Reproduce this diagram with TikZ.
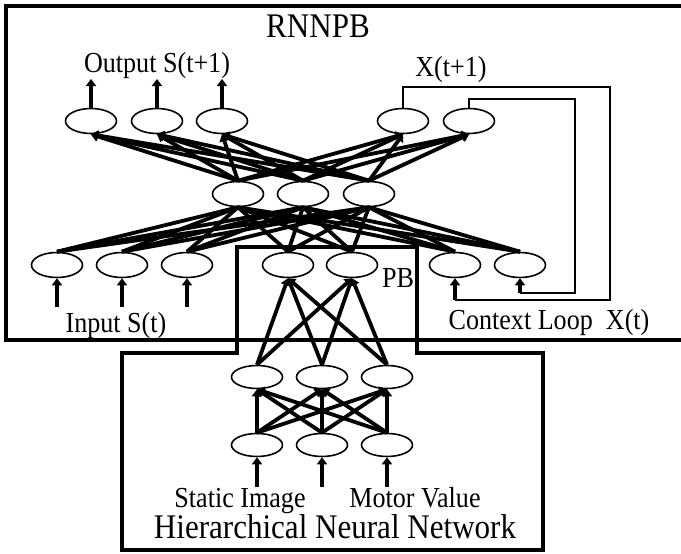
\documentclass[tikz,border=0pt]{standalone}
\usepackage{fontspec}
\setmainfont{Liberation Serif}[FakeStretch=0.9]
\usetikzlibrary{arrows.meta,shapes.geometric}

\tikzset{
  unit/.style={draw, ellipse, line width=1.6pt, minimum width=51pt, minimum height=25pt, inner sep=0pt},
  conn/.style={line width=3.8pt},
  connarrow/.style={line width=3.8pt, -{Triangle[length=7pt,width=10pt]}},
  loopline/.style={line width=1.4pt},
  frame/.style={line width=3.8pt},
  lbl/.style={font=\fontsize{29}{32}\selectfont, inner sep=0pt, anchor=base},
  title/.style={font=\fontsize{34.5}{38}\selectfont, inner sep=0pt, anchor=base}
}

\begin{document}
\begin{tikzpicture}[x=1pt,y=-1pt]
      \useasboundingbox (0,0) rectangle (681,554);
      %frames
      \draw[frame] (6,6) rectangle (700,340);
      \draw[frame] (122,353) -- (237,353) -- (237,247) -- (417,247) -- (417,353) -- (543,353) -- (543,550) -- (122,550) -- cycle;
      %output layer
      \node[unit] (o1) at (91,121) {};
      \node[unit] (o2) at (157,121) {};
      \node[unit] (o3) at (222,121) {};
      \node[unit] (x1) at (403,121) {};
      \node[unit] (x2) at (469,121) {};
      %hidden layer
      \node[unit] (h1) at (238,194) {};
      \node[unit] (h2) at (303,194) {};
      \node[unit] (h3) at (369,194) {};
      %input layer
      \node[unit] (i1) at (57,265) {};
      \node[unit] (i2) at (122,265) {};
      \node[unit] (i3) at (187,265) {};
      \node[unit] (p1) at (288,265) {};
      \node[unit] (p2) at (352,265) {};
      \node[unit] (c1) at (455,265) {};
      \node[unit] (c2) at (520,265) {};
      %hierarchical network
      \node[unit, minimum height=23pt] (u1) at (257,377) {};
      \node[unit, minimum height=23pt] (u2) at (322,377) {};
      \node[unit, minimum height=23pt] (u3) at (387,377) {};
      \node[unit, minimum height=23pt] (l1) at (257,445) {};
      \node[unit, minimum height=23pt] (l2) at (322,445) {};
      \node[unit, minimum height=23pt] (l3) at (387,445) {};
      %free ends
      \coordinate (outtop) at (0,79);
      \coordinate (inbase) at (0,307);
      \coordinate (hnnbase) at (0,487);
      \coordinate (r1) at (610,87);
      \coordinate (b1) at (610,300);
      \coordinate (r2) at (575,99);
      \coordinate (b2) at (575,293);
      %weights
      \foreach \a in {i1,i2,i3,p1,p2,c1,c2}
        \foreach \b in {h1,h2,h3}
          \draw[conn] (\a.north) -- (\b.south);
      \foreach \a in {h1,h2,h3}
        \foreach \b in {o1,o2,o3,x1,x2}
          \draw[connarrow] (\a.north) -- (\b.south);
      \foreach \a in {l1,l2,l3}
        \foreach \b in {u1,u2,u3}
          \draw[connarrow] (\a.north) -- (\b.south);
      \foreach \a in {u1,u2,u3}
        \foreach \b in {p1,p2}
          \draw[connarrow] (\a.north) -- (\b.south);
      %in and out
      \foreach \a in {o1,o2,o3}
        \draw[connarrow] (\a.north) -- (\a.north |- outtop);
      \foreach \a in {i1,i2,i3}
        \draw[connarrow] (\a.south |- inbase) -- (\a.south);
      \foreach \a in {l1,l2,l3}
        \draw[connarrow] (\a.south |- hnnbase) -- (\a.south);
      %context loop
      \draw[loopline] (x1.north) |- (r1) -- (b1) -- (c1.south |- b1);
      \draw[loopline] (x2.north) |- (r2) -- (b2) -- (c2.south |- b2);
      \draw[connarrow] (c1.south |- b1) -- (c1.south);
      \draw[connarrow] (c2.south |- b2) -- (c2.south);
      %labels
      \node[title] (rnnpb) at (318,37) {RNNPB};
      \node[lbl] (outlbl) at (157,72) {Output S(t+1)};
      \node[lbl] (xlbl) at (451,76) {X(t+1)};
      \node[lbl] (inlbl) at (116,332) {Input S(t)};
      \node[lbl] (pblbl) at (398,287) {PB};
      \node[lbl] (ctxlbl) at (549,329) {Context Loop\ \ X(t)};
      \node[lbl] (imglbl) at (240,507) {Static Image};
      \node[lbl] (motlbl) at (415,507) {Motor Value};
      \node[title] (hnnlbl) at (335,538) {Hierarchical Neural Network};
    \end{tikzpicture}
\end{document}
